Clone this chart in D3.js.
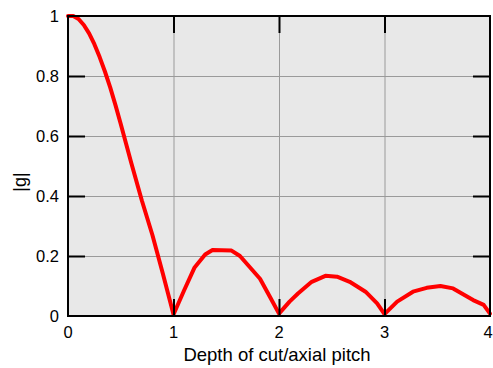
<!DOCTYPE html>
<html>
<head>
<meta charset="utf-8">
<script src="https://cdn.jsdelivr.net/npm/d3@7"></script>
<style>
  body { margin: 0; background: #fff; }
  svg { display: block; }
  text { font-family: "Liberation Sans", Arial, Helvetica, sans-serif; fill: #000; }
</style>
</head>
<body>
<svg id="chart" width="493" height="368"></svg>
<script>
// Magnitude of the transfer factor |g| against depth of cut / axial pitch
const depthRatio = [
  0, 0.05, 0.1, 0.15, 0.2, 0.25, 0.3, 0.35, 0.4, 0.45, 0.5, 0.55,
  0.6, 0.7, 0.8, 0.9, 1.0,
  1.1, 1.2, 1.3, 1.37, 1.55, 1.63, 1.72, 1.82, 1.92, 2.0,
  2.1, 2.18, 2.31, 2.44, 2.55, 2.67, 2.82, 2.93, 3.0,
  3.12, 3.27, 3.4, 3.53, 3.65, 3.84, 3.94, 4.0
];
const gMagnitude = [
  1.0, 1.0, 0.99, 0.97, 0.942, 0.906, 0.863, 0.815, 0.762, 0.703, 0.64, 0.575,
  0.51, 0.385, 0.27, 0.14, 0.005,
  0.085, 0.162, 0.205, 0.22, 0.218, 0.2, 0.164, 0.124, 0.06, 0.008,
  0.048, 0.075, 0.114, 0.134, 0.131, 0.114, 0.081, 0.042, 0.006,
  0.048, 0.081, 0.094, 0.1, 0.092, 0.053, 0.037, 0.008
];
const xTicks = [0, 1, 2, 3, 4];
const xTickLabels = ["0", "1", "2", "3", "4"];
const yTicks = [0, 0.2, 0.4, 0.6, 0.8, 1];
const yTickLabels = ["0", "0.2", "0.4", "0.6", "0.8", "1"];
const xTitle = "Depth of cut/axial pitch";
const yTitle = "|g|";

const W = 493, H = 368;
const margin = { top: 16, right: 3, bottom: 52, left: 68 };
const iw = W - margin.left - margin.right;
const ih = H - margin.top - margin.bottom;

const svg = d3.select("#chart");
const g = svg.append("g").attr("transform", `translate(${margin.left},${margin.top})`);

const x = d3.scaleLinear().domain([0, 4]).range([0, iw]);
const y = d3.scaleLinear().domain([0, 1]).range([ih, 0]);

// plot background
g.append("rect").attr("width", iw).attr("height", ih).attr("fill", "#e8e8e8");

// grid lines at interior ticks
const innerX = xTicks.filter(d => d > 0 && d < 4);
const innerY = yTicks.filter(d => d > 0 && d < 1);
g.append("g")
  .attr("transform", `translate(0,${ih})`)
  .call(d3.axisBottom(x).tickValues(innerX).tickSize(-ih).tickFormat(""))
  .call(s => s.select(".domain").remove())
  .call(s => s.selectAll("line").attr("stroke", "#9a9a9a").attr("stroke-width", 1));
g.append("g")
  .call(d3.axisLeft(y).tickValues(innerY).tickSize(-iw).tickFormat(""))
  .call(s => s.select(".domain").remove())
  .call(s => s.selectAll("line").attr("stroke", "#9a9a9a").attr("stroke-width", 1));

// curve
const line = d3.line().x((d, i) => x(depthRatio[i])).y((d, i) => y(gMagnitude[i]));
g.append("path")
  .datum(gMagnitude)
  .attr("d", line)
  .attr("fill", "none")
  .attr("stroke", "#ff0000")
  .attr("stroke-width", 4)
  .attr("stroke-linejoin", "round")
  .attr("stroke-linecap", "round");

// inward ticks on all four sides
const tickLen = 17;
const tickStyle = s => {
  s.select(".domain").remove();
  s.selectAll("line").attr("stroke", "#000").attr("stroke-width", 2);
};
g.append("g").attr("transform", `translate(0,${ih})`)
  .call(d3.axisBottom(x).tickValues(innerX).tickSize(-tickLen).tickFormat(""))
  .call(tickStyle);
g.append("g")
  .call(d3.axisTop(x).tickValues(innerX).tickSize(-tickLen).tickFormat(""))
  .call(tickStyle);
g.append("g")
  .call(d3.axisLeft(y).tickValues(innerY).tickSize(-tickLen).tickFormat(""))
  .call(tickStyle);
g.append("g").attr("transform", `translate(${iw},0)`)
  .call(d3.axisRight(y).tickValues(innerY).tickSize(-tickLen).tickFormat(""))
  .call(tickStyle);

// frame
g.append("rect").attr("width", iw).attr("height", ih)
  .attr("fill", "none").attr("stroke", "#000").attr("stroke-width", 2);

// tick labels (the last one is kept inside the page edge)
g.append("g").selectAll("text").data(xTicks).join("text")
  .attr("x", d => Math.min(x(d), iw - 2)).attr("y", ih + 22)
  .attr("text-anchor", "middle")
  .attr("font-size", 16.5)
  .text((d, i) => xTickLabels[i]);
g.append("g").selectAll("text").data(yTicks).join("text")
  .attr("x", -9).attr("y", d => y(d)).attr("dy", "0.36em")
  .attr("text-anchor", "end")
  .attr("font-size", 16.5)
  .text((d, i) => yTickLabels[i]);

// axis titles
svg.append("text")
  .attr("x", 277).attr("y", 361)
  .attr("text-anchor", "middle").attr("font-size", 18.5)
  .text(xTitle);
svg.append("text")
  .attr("transform", `translate(26,${margin.top + ih / 2 + 16}) rotate(-90)`)
  .attr("text-anchor", "middle").attr("font-size", 18)
  .text(yTitle);
</script>
</body>
</html>
